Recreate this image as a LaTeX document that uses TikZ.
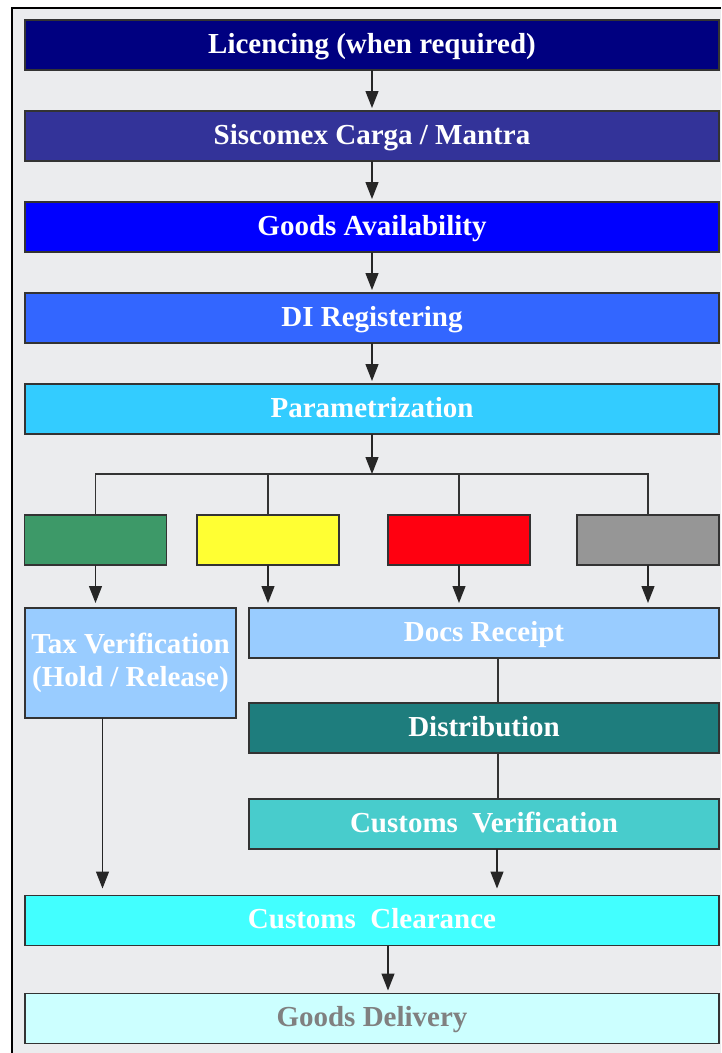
\documentclass[tikz,border=0pt]{standalone}
\usepackage{fontspec}
\setmainfont{Liberation Serif}
\usepackage{xcolor}
\usepackage{tikz}
\usetikzlibrary{arrows.meta, positioning}
\definecolor{panelbg}{HTML}{EBECEE}
\definecolor{licblue}{HTML}{000080}
\definecolor{sisblue}{HTML}{333399}
\definecolor{goodsblue}{HTML}{0000FF}
\definecolor{diblue}{HTML}{3366FF}
\definecolor{parblue}{HTML}{33CCFF}
\definecolor{chgreen}{HTML}{3D9968}
\definecolor{chyellow}{HTML}{FFFF33}
\definecolor{chred}{HTML}{FF0010}
\definecolor{chgray}{HTML}{969696}
\definecolor{paleblue}{HTML}{99CCFF}
\definecolor{distteal}{HTML}{1E7D7D}
\definecolor{cvteal}{HTML}{48CCCC}
\definecolor{clrcyan}{HTML}{42FFFF}
\definecolor{delcyan}{HTML}{CCFFFF}
\tikzstyle{stage}  = [rectangle, draw=black!80, line width=1.3pt, outer sep=0pt,
                      inner sep=0pt, minimum width=694pt, minimum height=50pt,
                      text=white, align=center, text height=20pt, text depth=4pt,
                      font=\bfseries\fontsize{29}{33}\selectfont]
\tikzstyle{flag}   = [rectangle, draw=black!80, line width=1.3pt, outer sep=0pt,
                      minimum width=142pt, minimum height=50pt]
\tikzstyle{arrow}  = [-{Triangle[length=17pt,width=13pt]}, line width=1.3pt, draw=black!85]
\tikzstyle{link}   = [line width=1.3pt, draw=black!80]

\begin{document}
\begin{tikzpicture}[x=1pt, y=1pt, node distance=41pt]

  \useasboundingbox (0,0) rectangle (721,-1053);
  \fill[panelbg] (12,-8) rectangle (721,-1053);
  \draw[line width=2pt] (12,-1053) -- (12,-8) -- (721,-8);

  \node[stage, fill=licblue] (lic) at (372,-45) {Licencing (when required)};
  \node[stage, fill=sisblue, below=of lic] (sis) {Siscomex Carga / Mantra};
  \node[stage, fill=goodsblue, below=of sis] (avail) {Goods Availability};
  \node[stage, fill=diblue, below=of avail] (direg) {DI Registering};
  \node[stage, fill=parblue, below=of direg] (par) {Parametrization};

  \node[flag, fill=chgreen] (grn) at (95.5,-540) {};
  \node[flag, fill=chyellow] (yel) at (268,-540) {};
  \node[flag, fill=chred] (red) at (459,-540) {};
  \node[flag, fill=chgray] (gry) at (648,-540) {};

  \node[stage, fill=paleblue, text height={}, text depth={},
        minimum width=211pt, minimum height=110pt] (tax) at (130.5,-663)
    {Tax Verification\\(Hold / Release)};
  \node[stage, fill=paleblue, minimum width=470pt] (docs) at (484,-633) {Docs Receipt};
  \node[stage, fill=distteal, minimum width=470pt, below=45pt of docs] (dist) {Distribution};
  \node[stage, fill=cvteal, minimum width=470pt, below=46pt of dist] (cver) {Customs~~Verification};
  \node[stage, fill=clrcyan] (clear) at (372,-920.5) {Customs~~Clearance};
  \node[stage, fill=delcyan, text=gray, below=48pt of clear] (deliv) {Goods Delivery};

  \coordinate (split) at (372,-474);

  \draw[arrow, shorten >=3pt] (lic) -- (sis);
  \draw[arrow, shorten >=3pt] (sis) -- (avail);
  \draw[arrow, shorten >=3pt] (avail) -- (direg);
  \draw[arrow, shorten >=3pt] (direg) -- (par);
  \draw[arrow] (par) -- (split);
  \draw[link] (grn.north) |- (split) -| (gry.north);
  \draw[link] (yel) -- (yel |- split);
  \draw[link] (red) -- (red |- split);
  \draw[arrow, shorten >=5pt] (grn) -- (grn |- tax.north);
  \draw[arrow, shorten >=5pt] (yel) -- (yel |- docs.north);
  \draw[arrow, shorten >=5pt] (red) -- (red |- docs.north);
  \draw[arrow, shorten >=5pt] (gry) -- (gry |- docs.north);
  \draw[link] ([xshift=14pt]docs.south) -- ([xshift=14pt]dist.north);
  \draw[link] ([xshift=14pt]dist.south) -- ([xshift=14pt]cver.north);
  \draw[arrow, shorten >=7pt] ([xshift=13pt]cver.south) -- ([xshift=13pt]cver.south |- clear.north);
  \draw[arrow, shorten >=7pt] ([xshift=-28pt]tax.south) -- ([xshift=-28pt]tax.south |- clear.north);
  \draw[arrow, shorten >=3pt] ([xshift=16pt]clear.south) -- ([xshift=16pt]deliv.north);

\end{tikzpicture}
\end{document}
